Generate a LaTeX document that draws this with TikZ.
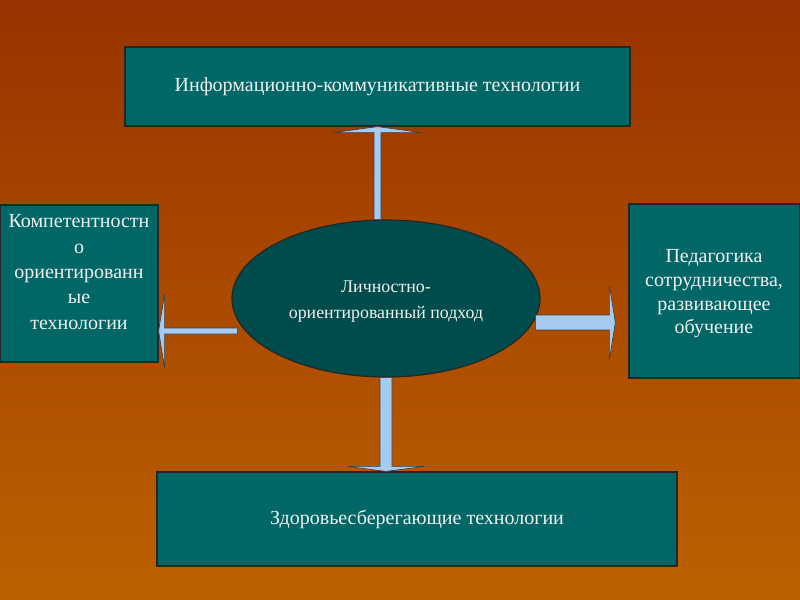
\documentclass[tikz,border=0pt]{standalone}
\usepackage{fontspec}
\setmainfont{Liberation Serif}
\usetikzlibrary{shapes.geometric,calc}
\definecolor{bgtop}{HTML}{993300}
\definecolor{bgbot}{HTML}{BD6100}
\definecolor{boxteal}{HTML}{006666}
\definecolor{elteal}{HTML}{004C4C}
\definecolor{arrblue}{HTML}{A6CAF0}
\definecolor{txtgray}{HTML}{F0F0F0}
\tikzset{
  techbox/.style={draw=black!85, line width=0.9pt, fill=boxteal, text=txtgray, align=center, inner sep=0pt, font=\fontsize{15}{18}\selectfont},
  techtext/.style={text=txtgray, align=center, inner sep=0pt, font=\fontsize{15}{19}\selectfont},
  blockarr/.style={draw=black!75, line width=0.5pt, fill=arrblue, line join=miter},
}
% block arrow: from, to, half shaft, half head, head length
\newcommand{\blockarrow}[5]{%
  \coordinate (bah) at ($(#2)!#5!(#1)$);
  \filldraw[blockarr] ($(#1)!#3!90:(#2)$) -- ($(bah)!#3!-90:(#1)$) -- ($(bah)!#4!-90:(#1)$) -- (#2) -- ($(bah)!#4!90:(#1)$) -- ($(bah)!#3!90:(#1)$) -- ($(#1)!#3!-90:(#2)$) -- cycle;}
\begin{document}
\begin{tikzpicture}[x=0.75pt,y=-0.75pt]
% Background
    \fill[top color=bgtop,bottom color=bgbot] (0,0) rectangle (800,600);
    \useasboundingbox (0,0) rectangle (800,600);
% Boxes
    \node[techbox, minimum width=378.75pt, minimum height=59.25pt] (ikt) at (377.5,86.5) {Информационно-коммуникативные технологии};
    \node[techbox, minimum width=118.5pt, minimum height=117.75pt] (komp) at (79,283.5) {};
    \node[techtext] (kompt) at (79,272) {Компетентностн\\о\\ориентированн\\ые\\технологии};
    \node[techbox, minimum width=127.9pt, minimum height=130.5pt] (ped) at (714.25,291) {};
    \node[techtext, font=\fontsize{15}{17.8}\selectfont] (pedt) at (714,294) {Педагогика\\сотрудничества,\\развивающее\\обучение};
    \node[techbox, minimum width=390pt, minimum height=70.5pt] (zdor) at (417,519) {Здоровьесберегающие технологии};
% Centre
    \node[techbox, shape=ellipse, fill=elteal, minimum width=231pt, minimum height=117.75pt] (lichn) at (386,298.5) {};
    \node[techtext, font=\fontsize{13.4}{19.5}\selectfont] (lichnt) at (386,302) {Личностно-\\ориентированный подход};
% Arrows
    \coordinate (tw1) at (lichn.north -| ikt.south);
    \blockarrow{tw1}{ikt.south}{2.6pt}{33pt}{4.5pt}
    \coordinate (bw1) at (lichn.south);
    \coordinate (bw2) at (lichn.south |- zdor.north);
    \blockarrow{bw1}{bw2}{4.5pt}{29pt}{3.75pt}
    \coordinate (lw1) at ($(lichn.west)+(6,32.5)$);
    \coordinate (lw2) at (lw1 -| komp.east);
    \blockarrow{lw1}{lw2}{2.25pt}{27.75pt}{4.5pt}
    \coordinate (rw1) at ($(lichn.east)+(-5,24)$);
    \coordinate (rw2) at ($(rw1 -| ped.west)+(-13,0)$);
    \blockarrow{rw1}{rw2}{5.6pt}{27.75pt}{4.5pt}
\end{tikzpicture}
\end{document}
